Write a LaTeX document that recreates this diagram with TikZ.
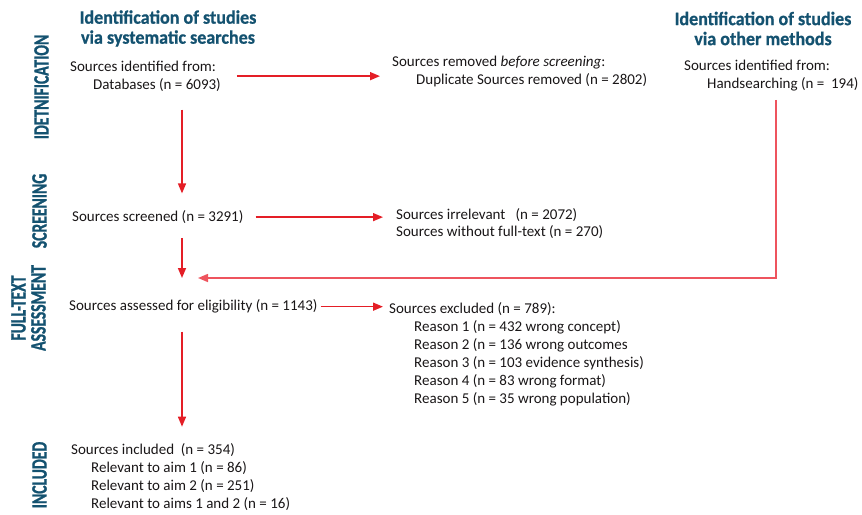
\documentclass[tikz,border=0pt]{standalone}
\usepackage{fontspec}
\setmainfont{Carlito}
\newfontfamily\headfont{Carlito Bold}[FakeStretch=0.95,FakeBold=0.8]
\newfontfamily\stagefont{Carlito Bold}[FakeStretch=0.71,FakeBold=1]
\usepackage{tikz}
\usetikzlibrary{positioning}
\usetikzlibrary{calc}
\usetikzlibrary{arrows.meta}

\definecolor{headblue}{RGB}{20,82,112}
\definecolor{flowred}{RGB}{228,30,38}
\definecolor{linkred}{RGB}{238,84,94}
\definecolor{bodygray}{RGB}{25,22,23}

\tikzset{
	heading/.style={font=\headfont\fontsize{19}{20}\selectfont, text=headblue, align=center, inner sep=0pt},
	stage/.style={font=\stagefont\fontsize{22}{20}\selectfont, text=headblue, rotate=90, align=center, inner sep=0pt},
	entry/.style={font=\fontsize{15}{18}\selectfont, text=bodygray, align=left, anchor=north west, inner sep=0pt},
	flow/.style={draw=flowred, line width=1.5pt, -{Triangle[width=8pt,length=10pt]}}
}

\begin{document}
\begin{tikzpicture}[x=1pt, y=-1pt]

\useasboundingbox (0,0) rectangle (862,514);

% column headings and stages
\node[heading] (headleft) at (168,28.5) {Identification of studies\\via systematic searches};
\node[heading] (headright) at (763,28.5) {Identification of studies\\via other methods};

\node[stage] (stageid) at (41.5,87) {IDETNIFICATION};
\node[stage] (stagescreen) at (39.5,211) {SCREENING};
\node[stage] (stagefull) at (28.5,308) {FULL-TEXT\\ASSESSMENT};
\node[stage] (stageinc) at (39.5,475) {INCLUDED};

% boxes
\node[entry] (ident) at (70,60.7) {Sources identified from:\\\hspace*{23pt}Databases (n = 6093)};
\node[entry] (removed) at (392,55.4) {Sources removed \textit{before screening}:\\\hspace*{24pt}Duplicate Sources removed (n = 2802)};
\node[entry] (hand) at (684,59.4) {Sources identified from:\\\hspace*{23pt}Handsearching (n =~ 194)};

\node[entry] (screened) at (72,210.4) {Sources screened (n = 3291)};
\node[entry, font=\fontsize{15}{17}\selectfont] (irrelevant) at (396,208.7) {Sources irrelevant~~ (n = 2072)\\Sources without full-text (n = 270)};

\node[entry] (assessed) at (69,299.7) {Sources assessed for eligibility (n = 1143)};
\node[entry] (excluded) at (389,302.7) {Sources excluded (n = 789):\\
	\hspace*{25pt}Reason 1 (n = 432 wrong concept)\\
	\hspace*{25pt}Reason 2 (n = 136 wrong outcomes\\
	\hspace*{25pt}Reason 3 (n = 103 evidence synthesis)\\
	\hspace*{25pt}Reason 4 (n = 83 wrong format)\\
	\hspace*{25pt}Reason 5 (n = 35 wrong population)};

\node[entry] (included) at (71,443.7) {Sources included~ (n = 354)\\
	\hspace*{20pt}Relevant to aim 1 (n = 86)\\
	\hspace*{20pt}Relevant to aim 2 (n = 251)\\
	\hspace*{20pt}Relevant to aims 1 and 2 (n = 16)};

\coordinate (spine) at (182,0);
\coordinate (bend) at (776,278);
\coordinate (merge) at (182,278);

% arrows
\draw[flow, shorten <=16pt, shorten >=12pt] (ident.east) -- (ident.east -| removed.west);
\draw[flow, shorten <=18pt, shorten >=17pt] (ident.south -| spine) -- (screened.north -| spine);
\draw[flow, shorten <=12pt, shorten >=13pt] (screened.east) -- (screened.east -| irrelevant.west);
\draw[flow, shorten <=14pt] (screened.south -| spine) -- (merge);
\draw[flow, draw=linkred, shorten <=9pt, shorten >=16pt] (hand.south -| bend) -- (bend) -- (merge);
\draw[flow, shorten <=3pt, shorten >=6pt] (assessed.east) -- (assessed.east -| excluded.west);
\draw[flow, shorten <=18pt, shorten >=17pt] (assessed.south -| spine) -- (included.north -| spine);

\end{tikzpicture}
\end{document}
